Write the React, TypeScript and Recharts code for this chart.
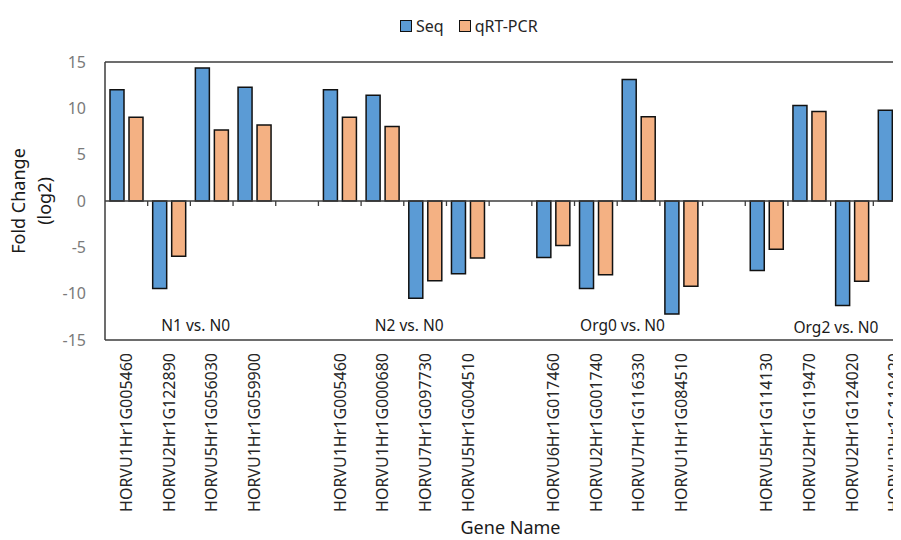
import React from 'react';
import { BarChart, Bar, XAxis, YAxis, ReferenceLine, ReferenceDot, Legend } from 'recharts';

const categoryIds = ['g1','g2','g3','g4','gap1','g5','g6','g7','g8','gap2','g9','g10','g11','g12','gap3','g13','g14','g15','g16'];
const geneNames = [
  'HORVU1Hr1G005460','HORVU2Hr1G122890','HORVU5Hr1G056030','HORVU1Hr1G059900','',
  'HORVU1Hr1G005460','HORVU1Hr1G000680','HORVU7Hr1G097730','HORVU5Hr1G004510','',
  'HORVU6Hr1G017460','HORVU2Hr1G001740','HORVU7Hr1G116330','HORVU1Hr1G084510','',
  'HORVU5Hr1G114130','HORVU2Hr1G119470','HORVU2Hr1G124020','HORVU2Hr1G119420',
];
const seqValues = [12.0, -9.45, 14.35, 12.28, null, 12.0, 11.4, -10.5, -7.85, null, -6.1, -9.45, 13.1, -12.2, null, -7.5, 10.3, -11.27, 9.8];
const qpcrValues = [9.05, -5.97, 7.65, 8.2, null, 9.05, 8.05, -8.6, -6.15, null, -4.8, -7.95, 9.1, -9.2, null, -5.2, 9.65, -8.65, 7.5];
const yTicks = [-15, -10, -5, 0, 5, 10, 15];
const groupLabels = [
  { anchor: 'g3', y: -13.4, text: 'N1 vs. N0' },
  { anchor: 'g7', y: -13.4, text: 'N2 vs. N0' },
  { anchor: 'g11', y: -13.4, text: 'Org0 vs. N0' },
  { anchor: 'g15', y: -13.6, text: 'Org2 vs. N0' },
];

const data = categoryIds.map((id, i) => ({
  id,
  name: geneNames[i],
  seq: seqValues[i],
  qpcr: qpcrValues[i],
}));

const FONT = '"Noto Sans", "Open Sans", sans-serif';
const AXIS = '#3d3d3d';
const SEQ = '#5B9BD5';
const QPCR = '#F4B183';

const XTick = (props: any) => {
  const { x, y, payload } = props;
  const name = geneNames[payload.index] ?? '';
  return (
    <text
      x={x}
      y={y}
      transform={`rotate(-90, ${x}, ${y})`}
      textAnchor="end"
      dy="0.36em"
      fontSize={16}
      fill="#262626"
      fontFamily={FONT}
    >
      {name}
    </text>
  );
};

const ZeroLine = (props: any) => {
  const { x1, x2, y1 } = props;
  const n = data.length;
  const step = (x2 - x1) / n;
  const ticks = [];
  for (let i = 1; i < n; i++) {
    const tx = x1 + i * step;
    ticks.push(<line key={i} x1={tx} x2={tx} y1={y1} y2={y1 + 5} stroke={AXIS} strokeWidth={1.3} />);
  }
  return (
    <g>
      <line x1={x1} x2={x2} y1={y1} y2={y1} stroke={AXIS} strokeWidth={1.5} />
      {ticks}
    </g>
  );
};

const LegendContent = () => (
  <div style={{ display: 'flex', alignItems: 'center', fontFamily: FONT, fontSize: 16, color: '#262626', whiteSpace: 'nowrap' }}>
    <span style={{ width: 12, height: 12, boxSizing: 'border-box', background: SEQ, border: '1.5px solid #111', display: 'inline-block' }} />
    <span style={{ marginLeft: 4 }}>Seq</span>
    <span style={{ width: 12, height: 12, boxSizing: 'border-box', background: QPCR, border: '1.5px solid #111', display: 'inline-block', marginLeft: 15 }} />
    <span style={{ marginLeft: 4 }}>qRT-PCR</span>
  </div>
);

const YLabel = (props: any) => {
  const { viewBox } = props;
  const cy = viewBox.y + viewBox.height / 2;
  return (
    <g fontFamily={FONT} fontSize={18} fill="#1a1a1a">
      <text x={11} y={cy} transform={`rotate(-90, 11, ${cy})`} textAnchor="middle" dy="0.36em">Fold Change</text>
      <text x={37} y={cy} transform={`rotate(-90, 37, ${cy})`} textAnchor="middle" dy="0.36em">(log2)</text>
    </g>
  );
};

export default function App() {
  return (
    <div style={{ width: 893, height: 532, overflow: 'hidden', position: 'relative' }}>
      <BarChart
        width={930}
        height={532}
        data={data}
        margin={{ top: 54, right: 22, bottom: 0, left: 0 }}
        barGap={5}
        barSize={14}
      >
        <Legend
          verticalAlign="middle"
          align="center"
          content={LegendContent}
          wrapperStyle={{ top: 7, left: 392, width: 'auto', height: 'auto' }}
        />
        <XAxis
          dataKey="id"
          type="category"
          interval={0}
          height={200}
          tickLine={false}
          tickSize={6}
          tickMargin={7}
          axisLine={{ stroke: AXIS, strokeWidth: 1.5 }}
          tick={<XTick />}
          label={{ value: 'Gene Name', position: 'insideBottom', offset: 6, fontSize: 18, fill: '#1a1a1a', fontFamily: FONT }}
        />
        <YAxis
          width={97}
          domain={[-15, 15]}
          ticks={yTicks}
          interval={0}
          tickLine={false}
          tickSize={6}
          tickMargin={13}
          axisLine={{ stroke: AXIS, strokeWidth: 1.5 }}
          tick={{ fontSize: 16, fill: '#7a7a7a', fontFamily: FONT }}
          label={<YLabel />}
        />
        <ReferenceLine y={15} stroke={AXIS} strokeWidth={1.5} />
        <Bar dataKey="seq" name="Seq" fill={SEQ} stroke="#111" strokeWidth={1.5} isAnimationActive={false} />
        <Bar dataKey="qpcr" name="qRT-PCR" fill={QPCR} stroke="#111" strokeWidth={1.5} isAnimationActive={false} />
        <ReferenceLine y={0} shape={ZeroLine} />
        {groupLabels.map((g) => (
          <ReferenceDot
            key={g.text}
            x={g.anchor}
            y={g.y}
            r={0}
            isFront
            shape={(p: any) => (
              <text x={p.cx - 16} y={p.cy} dy="0.36em" textAnchor="middle" fontSize={15.5} fill="#1a1a1a" fontFamily={FONT}>
                {g.text}
              </text>
            )}
          />
        ))}
      </BarChart>
    </div>
  );
}
